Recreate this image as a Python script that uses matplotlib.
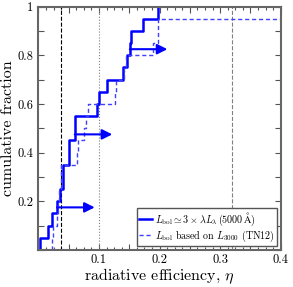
import numpy as np
import matplotlib
matplotlib.use('Agg')
import matplotlib.pyplot as plt
from matplotlib.ticker import MultipleLocator, FuncFormatter

plt.rcParams['font.family'] = 'cmr10'
plt.rcParams['mathtext.fontset'] = 'cm'
plt.rcParams['axes.formatter.use_mathtext'] = True

# radiative efficiency of each object, sorted (one step = 1/N)
eta_5100 = [0.0025, 0.016, 0.023, 0.031, 0.036, 0.040, 0.041, 0.050, 0.050, 0.060,
            0.060, 0.096, 0.100, 0.114, 0.140, 0.147, 0.151, 0.153, 0.173, 0.198]
eta_3000 = [0.022, 0.024, 0.030, 0.032, 0.034, 0.037, 0.038, 0.064, 0.065, 0.076,
            0.078, 0.082, 0.127, 0.128, 0.141, 0.145, 0.190, 0.198, 0.198, 0.45]
# objects whose eta is only a lower limit (index into eta_5100)
lower_limits = [3, 9, 16]
vlines = [(0.038, 'k', '--'), (0.1, 'gray', ':'), (0.32, 'gray', '--')]

N = len(eta_5100)
fig = plt.figure(figsize=(2.93, 2.87), dpi=100)
ax = fig.add_axes([0.131, 0.129, 0.827, 0.848])

for xv, c, ls in vlines:
    ax.axvline(xv, color=c, ls=ls, lw=0.8)

frac = np.arange(0, N + 1) / N
ax.step([eta_5100[0]] + eta_5100, frac, where='post', color='#0000ff', lw=1.8,
        label=r'$L_{\rm bol}\simeq 3\times\lambda L_\lambda\,(5000\,{\rm \AA})$')
ax.step([eta_3000[0]] + eta_3000, np.arange(0, len(eta_3000) + 1) / len(eta_3000),
        where='post', color='#4040ff', lw=1.0, ls=(0, (3, 2)),
        label=r'$L_{\rm bol}$ based on $L_{3000}$ (TN12)')

for i in lower_limits:
    y = (i + 0.5) / N
    ax.annotate('', xy=(eta_5100[i] + 0.062, y), xytext=(eta_5100[i], y),
                arrowprops=dict(arrowstyle='-|>', color='#0000ff', lw=1.5,
                                mutation_scale=15, shrinkA=0, shrinkB=0))

ax.set_xlim(0, 0.4)
ax.set_ylim(0, 1)
ax.xaxis.set_major_locator(MultipleLocator(0.05))
ax.xaxis.set_minor_locator(MultipleLocator(0.0125))
ax.yaxis.set_major_locator(MultipleLocator(0.1))


def xfmt(v, pos):
    k = int(round(v / 0.05))
    return '' if k == 0 or k % 2 else f'{v:.1f}'


def yfmt(v, pos):
    k = int(round(v * 10))
    if k == 0 or k % 2:
        return ''
    return '1' if k == 10 else f'{v:.1f}'


ax.xaxis.set_major_formatter(FuncFormatter(xfmt))
ax.yaxis.set_major_formatter(FuncFormatter(yfmt))
ax.tick_params(which='both', direction='in', top=True, right=True, color='#555555',
               labelsize=9)
ax.tick_params(which='major', length=4, width=0.8)
ax.tick_params(which='minor', length=2.5, width=0.8)
ax.tick_params(axis='x', pad=3)
for s in ax.spines.values():
    s.set_color('#666666')
    s.set_linewidth(1.5)

ax.set_xlabel(r'radiative efficiency, $\eta$', fontsize=11.5, labelpad=0)
ax.set_ylabel('cumulative fraction', fontsize=11.5, labelpad=2)
leg = ax.legend(loc='lower right', fontsize=7.2, handlelength=1.3, handletextpad=0.3,
                borderpad=0.2, labelspacing=0.1, fancybox=False, framealpha=1,
                borderaxespad=0.4)
leg.get_frame().set_edgecolor('#555555')

fig.savefig('out.png', dpi=100)
